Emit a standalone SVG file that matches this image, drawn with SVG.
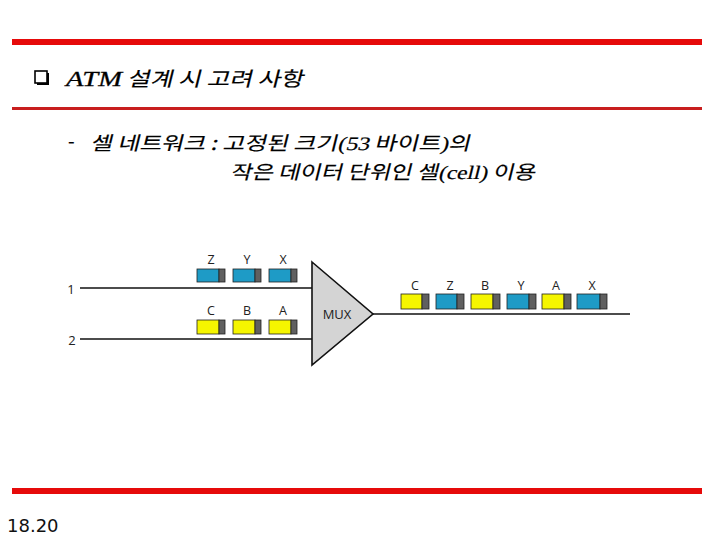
<svg xmlns="http://www.w3.org/2000/svg" width="720" height="540" viewBox="0 0 720 540">
<style>
.kr{font-family:"Noto Sans CJK KR","Liberation Sans",sans-serif;fill:#000;stroke:#000;stroke-width:0.15}
.tm{font-family:"Liberation Serif",serif;font-style:italic}
.tn{font-family:"Liberation Serif",serif;font-style:normal;stroke-width:0.2}
.lbl{font-family:"Open Sans","Liberation Sans",sans-serif;font-size:12.5px;fill:#222;text-anchor:middle}
.wire{stroke:#111;stroke-width:1.6;fill:none}
.cell{stroke:#222;stroke-width:0.8}
.blue{fill:#1e9bc6}
.yel{fill:#f5f500}
.tail{fill:#606060;stroke:#222;stroke-width:0.8}
</style>
<rect width="720" height="540" fill="#fff"/>
<rect x="12" y="39" width="690" height="6" fill="#e60a0a"/>
<rect x="12" y="107" width="690" height="3" fill="#c81e1e"/>
<rect x="12" y="488" width="690" height="6" fill="#e60a0a"/>

<g id="title">
  <rect x="37" y="73" width="12" height="12" fill="#000"/>
  <rect x="35" y="71" width="12" height="12" fill="#fff" stroke="#000" stroke-width="1.6"/>
  <text x="66" y="86" font-size="21" class="tm" stroke="#000" stroke-width="0.3" textLength="56" lengthAdjust="spacingAndGlyphs">ATM</text>
  <text transform="translate(127,86) skewX(-14)" x="0" y="0" font-size="20" class="kr" textLength="176" lengthAdjust="spacingAndGlyphs">설계 시 고려 사항</text>
</g>
<g id="subtitle">
  <text x="68" y="148" font-size="19" class="kr">-</text>
  <text transform="translate(90,150) skewX(-14)" x="0" y="0" font-size="19" class="kr" textLength="380" lengthAdjust="spacingAndGlyphs">셀 네트워크 : 고정된 크기<tspan class="tn">(53</tspan> 바이트<tspan class="tn">)</tspan>의</text>
  <text transform="translate(230,179) skewX(-14)" x="0" y="0" font-size="19" class="kr" textLength="305" lengthAdjust="spacingAndGlyphs">작은 데이터 단위인 셀<tspan class="tn">(cell)</tspan>  이용</text>
</g>

<g id="connectors">
  <line class="wire" x1="80" y1="288" x2="313" y2="288"/>
  <line class="wire" x1="80" y1="339" x2="313" y2="339"/>
  <line class="wire" x1="373" y1="314" x2="630" y2="314"/>
</g>
<g id="input1"><text class="lbl" x="71" y="294" style="font-size:13px">1</text></g>
<g id="input2"><text class="lbl" x="72" y="345" style="font-size:13px">2</text></g>

<g id="mux">
  <polygon points="312,262 373,314 312,365" fill="#d4d4d4" stroke="#111" stroke-width="1.6"/>
  <text class="lbl" x="337" y="319" style="font-size:13px">MUX</text>
</g>

<g id="cell-Z-in">
  <rect class="cell blue" x="197" y="269" width="22" height="13"/><rect class="tail" x="219" y="269" width="6" height="13"/>
  <text class="lbl" x="211" y="264">Z</text>
</g>
<g id="cell-Y-in">
  <rect class="cell blue" x="233" y="269" width="22" height="13"/><rect class="tail" x="255" y="269" width="6" height="13"/>
  <text class="lbl" x="247" y="264">Y</text>
</g>
<g id="cell-X-in">
  <rect class="cell blue" x="269" y="269" width="22" height="13"/><rect class="tail" x="291" y="269" width="6" height="13"/>
  <text class="lbl" x="283" y="264">X</text>
</g>
<g id="cell-C-in">
  <rect class="cell yel" x="197" y="320" width="22" height="14"/><rect class="tail" x="219" y="320" width="6" height="14"/>
  <text class="lbl" x="211" y="315">C</text>
</g>
<g id="cell-B-in">
  <rect class="cell yel" x="233" y="320" width="22" height="14"/><rect class="tail" x="255" y="320" width="6" height="14"/>
  <text class="lbl" x="247" y="315">B</text>
</g>
<g id="cell-A-in">
  <rect class="cell yel" x="269" y="320" width="22" height="14"/><rect class="tail" x="291" y="320" width="6" height="14"/>
  <text class="lbl" x="283" y="315">A</text>
</g>

<g id="cell-C-out">
  <rect class="cell yel" x="401" y="294" width="21" height="15"/><rect class="tail" x="422" y="294" width="7" height="15"/>
  <text class="lbl" x="415" y="290">C</text>
</g>
<g id="cell-Z-out">
  <rect class="cell blue" x="436" y="294" width="21" height="15"/><rect class="tail" x="457" y="294" width="7" height="15"/>
  <text class="lbl" x="450" y="290">Z</text>
</g>
<g id="cell-B-out">
  <rect class="cell yel" x="471" y="294" width="22" height="15"/><rect class="tail" x="493" y="294" width="7" height="15"/>
  <text class="lbl" x="485" y="290">B</text>
</g>
<g id="cell-Y-out">
  <rect class="cell blue" x="507" y="294" width="22" height="15"/><rect class="tail" x="529" y="294" width="7" height="15"/>
  <text class="lbl" x="521" y="290">Y</text>
</g>
<g id="cell-A-out">
  <rect class="cell yel" x="542" y="294" width="22" height="15"/><rect class="tail" x="564" y="294" width="7" height="15"/>
  <text class="lbl" x="556" y="290">A</text>
</g>
<g id="cell-X-out">
  <rect class="cell blue" x="577" y="294" width="23" height="15"/><rect class="tail" x="600" y="294" width="7" height="15"/>
  <text class="lbl" x="592" y="290">X</text>
</g>

<g id="page-number">
  <text x="7" y="532" font-size="18" font-family="'DejaVu Sans','Liberation Sans',sans-serif" fill="#111">18.20</text>
</g>
</svg>
